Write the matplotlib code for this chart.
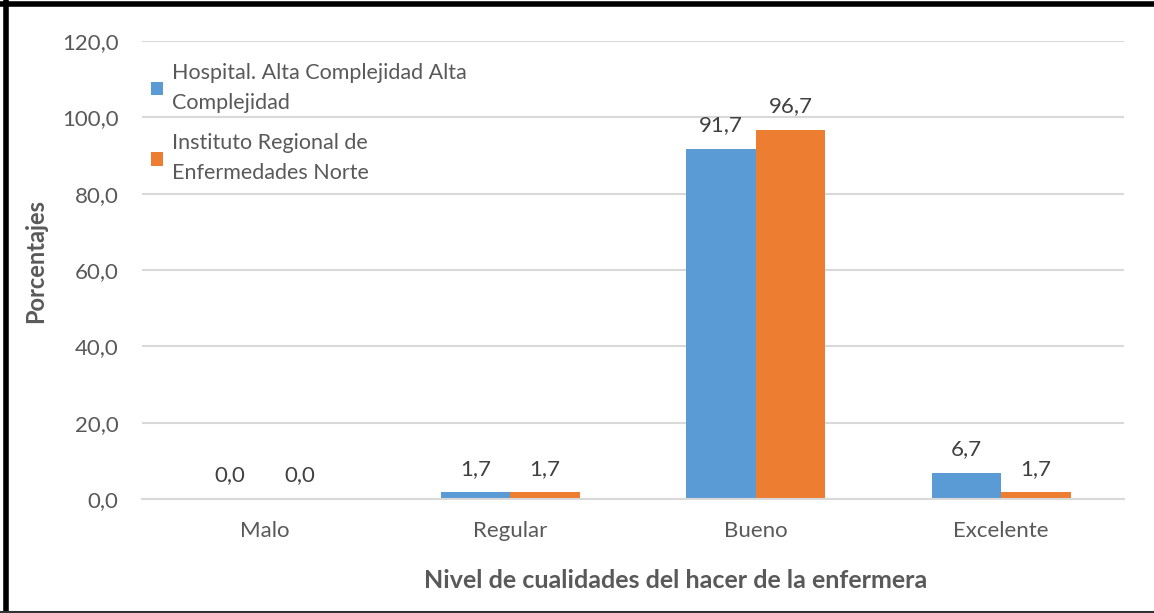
import numpy as np
import matplotlib
matplotlib.use('Agg')
from matplotlib import pyplot as plt
from matplotlib.lines import Line2D
from matplotlib.ticker import FuncFormatter

categories = ['Malo', 'Regular', 'Bueno', 'Excelente']
hospital = [0.0, 1.7, 91.7, 6.7]
instituto = [0.0, 1.7, 96.7, 1.7]
series_names = ['Hospital. Alta Complejidad Alta\nComplejidad',
                'Instituto Regional de\nEnfermedades Norte']
y_ticks = [0, 20, 40, 60, 80, 100, 120]

plt.rcParams['font.family'] = ['Lato', 'DejaVu Sans']

fig = plt.figure(figsize=(11.54, 6.13), dpi=100)
ax = fig.add_axes([0.123, 0.186, 0.851, 0.747])

x = np.arange(len(categories))
w = 0.283
b1 = ax.bar(x - w / 2, hospital, w, color='#5b9bd5', label=series_names[0])
b2 = ax.bar(x + w / 2, instituto, w, color='#ed7d31', label=series_names[1])

def fmt(v):
    return f'{v:.1f}'.replace('.', ',')

ax.bar_label(b1, labels=[fmt(v) for v in hospital], padding=10, fontsize=16, color='#404040')
ax.bar_label(b2, labels=[fmt(v) for v in instituto], padding=10, fontsize=16, color='#404040')

ax.set_xlim(-0.5, 3.5)
ax.set_ylim(0, 120)
ax.set_yticks(y_ticks)
ax.yaxis.set_major_formatter(FuncFormatter(lambda v, p: fmt(v)))
ax.set_xticks(x)
ax.set_xticklabels(categories)
ax.tick_params(axis='both', length=0, labelsize=16, colors='#595959')
ax.tick_params(axis='y', pad=17)
ax.tick_params(axis='x', pad=16)

ax.grid(axis='y', color='#d9d9d9', linewidth=1.5)
ax.set_axisbelow(True)
for s in ['top', 'right', 'left']:
    ax.spines[s].set_visible(False)
ax.spines['bottom'].set_color('#d9d9d9')
ax.spines['bottom'].set_linewidth(1.5)

ax.set_ylabel('Porcentajes', fontsize=17, fontweight='bold', color='#595959')
ax.yaxis.set_label_coords(-0.097, 0.52)
fig.text(676 / 1154, 1 - 581 / 613, 'Nivel de cualidades del hacer de la enfermera',
         fontsize=18, fontweight='bold', color='#595959', ha='center', va='center')

leg = ax.legend(loc='upper left', bbox_to_anchor=(0.0, 0.97), frameon=False, fontsize=15.5,
                handlelength=0.6, handleheight=0.6, handletextpad=0.4, labelspacing=0.95,
                labelcolor='#595959', borderaxespad=0)
for t in leg.get_texts():
    t.set_linespacing(1.6)

# figure border
fig.add_artist(Line2D([0, 1], [1 - 4 / 613, 1 - 4 / 613], color='black', linewidth=4, transform=fig.transFigure))
fig.add_artist(Line2D([6 / 1154, 6 / 1154], [0, 1], color='black', linewidth=4, transform=fig.transFigure))
fig.add_artist(Line2D([0, 1], [1.5 / 613, 1.5 / 613], color='#333333', linewidth=1.5, transform=fig.transFigure))

fig.savefig('out.png', dpi=100)
